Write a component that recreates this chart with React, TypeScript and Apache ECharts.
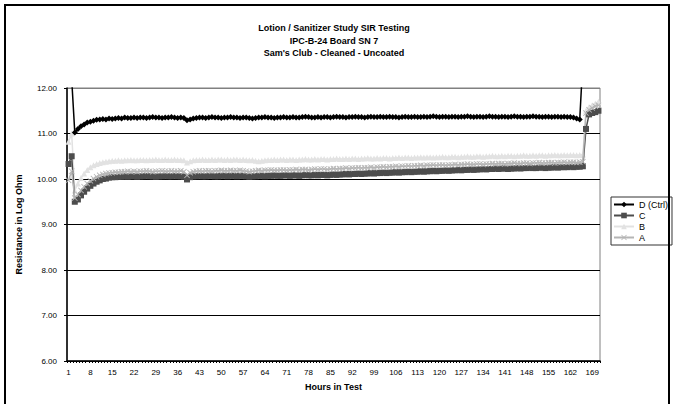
import React, { useEffect, useRef } from "react";
import * as echarts from "echarts";

const hours = Array.from({ length: 171 }, (_, i) => String(i + 1));

const titleLines = [
  "Lotion / Sanitizer Study SIR Testing",
  "IPC-B-24 Board SN 7",
  "Sam's Club - Cleaned - Uncoated",
];
const yTicks = [6, 7, 8, 9, 10, 11, 12];
const seriesNames = ["D (Ctrl)", "C", "B", "A"];

const seriesD = [
  16.0, 12.2, 11.02, 11.1, 11.16, 11.2, 11.24, 11.26, 11.28, 11.3,
  11.31, 11.32, 11.31, 11.33, 11.32, 11.33, 11.34, 11.33, 11.35, 11.34,
  11.34, 11.35, 11.34, 11.35, 11.35, 11.34, 11.35, 11.36, 11.35, 11.35,
  11.34, 11.35, 11.35, 11.36, 11.35, 11.34, 11.35, 11.34, 11.29, 11.31,
  11.33, 11.34, 11.35, 11.35, 11.34, 11.35, 11.36, 11.35, 11.35, 11.34,
  11.35, 11.35, 11.36, 11.35, 11.35, 11.34, 11.35, 11.35, 11.34, 11.33,
  11.34, 11.35, 11.35, 11.36, 11.35, 11.35, 11.34, 11.35, 11.35, 11.36,
  11.35, 11.35, 11.36, 11.35, 11.35, 11.36, 11.37, 11.36, 11.35, 11.35,
  11.36, 11.35, 11.36, 11.36, 11.35, 11.36, 11.37, 11.36, 11.36, 11.35,
  11.36, 11.36, 11.37, 11.36, 11.36, 11.35, 11.36, 11.37, 11.36, 11.36,
  11.37, 11.36, 11.36, 11.37, 11.36, 11.36, 11.35, 11.36, 11.37, 11.36,
  11.36, 11.37, 11.36, 11.36, 11.37, 11.36, 11.37, 11.38, 11.37, 11.36,
  11.37, 11.37, 11.36, 11.37, 11.37, 11.36, 11.37, 11.37, 11.38, 11.37,
  11.36, 11.37, 11.37, 11.36, 11.37, 11.38, 11.37, 11.37, 11.36, 11.37,
  11.37, 11.36, 11.37, 11.38, 11.37, 11.37, 11.36, 11.37, 11.37, 11.38,
  11.37, 11.37, 11.36, 11.37, 11.37, 11.36, 11.37, 11.37, 11.36, 11.37,
  11.36, 11.36, 11.35, 11.33, 11.31, 12.6, 14.5, 14.8, 15.0, 15.0, 15.0,
];

const seriesC = [
  10.33, 10.5, 9.5, 9.55, 9.64, 9.72, 9.79, 9.85, 9.9, 9.94,
  9.97, 10.0, 10.01, 10.03, 10.04, 10.04, 10.05, 10.05, 10.06, 10.05,
  10.06, 10.06, 10.05, 10.06, 10.06, 10.07, 10.06, 10.06, 10.05, 10.06,
  10.06, 10.07, 10.06, 10.06, 10.07, 10.06, 10.06, 10.05, 9.99, 10.04,
  10.06, 10.06, 10.07, 10.06, 10.06, 10.07, 10.07, 10.06, 10.06, 10.07,
  10.07, 10.06, 10.07, 10.07, 10.06, 10.07, 10.07, 10.06, 10.05, 10.06,
  10.06, 10.07, 10.07, 10.06, 10.07, 10.07, 10.08, 10.07, 10.07, 10.08,
  10.08, 10.07, 10.08, 10.08, 10.07, 10.08, 10.09, 10.08, 10.08, 10.09,
  10.08, 10.09, 10.09, 10.08, 10.09, 10.1, 10.09, 10.1, 10.1, 10.11,
  10.1, 10.11, 10.11, 10.12, 10.11, 10.12, 10.12, 10.13, 10.12, 10.13,
  10.13, 10.14, 10.13, 10.14, 10.14, 10.15, 10.14, 10.15, 10.15, 10.16,
  10.15, 10.16, 10.16, 10.17, 10.16, 10.17, 10.17, 10.18, 10.17, 10.18,
  10.18, 10.19, 10.18, 10.19, 10.19, 10.2, 10.19, 10.2, 10.2, 10.21,
  10.2, 10.21, 10.21, 10.22, 10.21, 10.22, 10.22, 10.23, 10.22, 10.23,
  10.23, 10.22, 10.23, 10.23, 10.24, 10.23, 10.24, 10.24, 10.25, 10.24,
  10.24, 10.25, 10.25, 10.24, 10.25, 10.25, 10.26, 10.25, 10.26, 10.26,
  10.26, 10.27, 10.26, 10.27, 10.27, 10.28, 11.1, 11.42, 11.45, 11.47, 11.5,
];

const seriesB = [
  10.82, 11.0, 9.75, 9.9, 10.02, 10.12, 10.2, 10.26, 10.3, 10.33,
  10.35, 10.37, 10.38, 10.39, 10.4, 10.4, 10.41, 10.4, 10.41, 10.41,
  10.42, 10.41, 10.41, 10.42, 10.42, 10.41, 10.42, 10.42, 10.43, 10.42,
  10.42, 10.43, 10.42, 10.42, 10.43, 10.42, 10.42, 10.41, 10.36, 10.39,
  10.41, 10.42, 10.42, 10.43, 10.42, 10.42, 10.43, 10.42, 10.43, 10.43,
  10.42, 10.43, 10.42, 10.43, 10.43, 10.42, 10.43, 10.42, 10.41, 10.42,
  10.4, 10.39, 10.4, 10.41, 10.42, 10.42, 10.43, 10.42, 10.43, 10.43,
  10.42, 10.43, 10.43, 10.42, 10.43, 10.43, 10.44, 10.43, 10.43, 10.44,
  10.43, 10.44, 10.44, 10.43, 10.44, 10.44, 10.45, 10.44, 10.44, 10.45,
  10.44, 10.45, 10.45, 10.44, 10.45, 10.45, 10.46, 10.45, 10.45, 10.46,
  10.45, 10.46, 10.46, 10.45, 10.46, 10.46, 10.47, 10.46, 10.47, 10.47,
  10.46, 10.47, 10.47, 10.48, 10.47, 10.48, 10.48, 10.47, 10.48, 10.48,
  10.49, 10.48, 10.48, 10.49, 10.49, 10.48, 10.49, 10.49, 10.5, 10.49,
  10.49, 10.5, 10.5, 10.49, 10.5, 10.5, 10.51, 10.5, 10.5, 10.51,
  10.5, 10.51, 10.51, 10.5, 10.51, 10.51, 10.52, 10.51, 10.51, 10.52,
  10.51, 10.52, 10.52, 10.51, 10.52, 10.52, 10.53, 10.52, 10.52, 10.53,
  10.52, 10.53, 10.53, 10.52, 10.53, 10.54, 11.5, 11.58, 11.62, 11.66, 11.7,
];

const seriesA = [
  9.97, 10.17, 9.58, 9.66, 9.75, 9.83, 9.9, 9.96, 10.01, 10.05,
  10.08, 10.1, 10.12, 10.13, 10.14, 10.15, 10.15, 10.16, 10.16, 10.17,
  10.16, 10.17, 10.16, 10.17, 10.17, 10.18, 10.17, 10.16, 10.17, 10.17,
  10.18, 10.17, 10.17, 10.18, 10.17, 10.17, 10.18, 10.16, 10.08, 10.14,
  10.16, 10.17, 10.18, 10.17, 10.18, 10.18, 10.17, 10.18, 10.18, 10.19,
  10.18, 10.18, 10.19, 10.18, 10.18, 10.19, 10.18, 10.17, 10.16, 10.17,
  10.18, 10.19, 10.18, 10.19, 10.19, 10.2, 10.19, 10.19, 10.2, 10.2,
  10.19, 10.2, 10.2, 10.21, 10.2, 10.21, 10.21, 10.2, 10.21, 10.22,
  10.21, 10.22, 10.22, 10.21, 10.22, 10.23, 10.22, 10.23, 10.23, 10.24,
  10.23, 10.24, 10.24, 10.25, 10.24, 10.25, 10.25, 10.26, 10.25, 10.26,
  10.26, 10.27, 10.26, 10.27, 10.27, 10.28, 10.27, 10.28, 10.28, 10.29,
  10.28, 10.29, 10.29, 10.3, 10.29, 10.3, 10.3, 10.31, 10.3, 10.31,
  10.31, 10.3, 10.31, 10.31, 10.32, 10.31, 10.32, 10.32, 10.33, 10.32,
  10.32, 10.33, 10.33, 10.32, 10.33, 10.33, 10.34, 10.33, 10.34, 10.34,
  10.33, 10.34, 10.34, 10.35, 10.34, 10.34, 10.35, 10.35, 10.34, 10.35,
  10.35, 10.36, 10.35, 10.35, 10.36, 10.36, 10.35, 10.36, 10.36, 10.37,
  10.36, 10.37, 10.37, 10.36, 10.37, 10.38, 11.45, 11.52, 11.56, 11.6, 11.62,
];

const FONT = "'Liberation Sans', Arial, Helvetica, sans-serif";
const X_MARK = "path://M0,1L1,0L5,4L9,0L10,1L6,5L10,9L9,10L5,6L1,10L0,9L4,5Z";

export default function App() {
  const ref = useRef<HTMLDivElement>(null);

  useEffect(() => {
    if (!ref.current) return;
    const chart = echarts.init(ref.current, null, { renderer: "svg" });

    const lineSeries = (
      name: string,
      data: number[],
      color: string,
      symbol: string,
      symbolSize: number,
      z: number
    ) => ({
      name,
      type: "line",
      data,
      symbol,
      symbolSize,
      showAllSymbol: true,
      clip: true,
      z,
      itemStyle: { color, borderColor: color, borderWidth: 0 },
      lineStyle: { color, width: 1.5 },
      emphasis: { disabled: true },
    });

    chart.setOption({
      animation: false,
      backgroundColor: "#ffffff",
      textStyle: { fontFamily: FONT },
      graphic: [
        {
          type: "rect",
          shape: { x: 5, y: 5, width: 664, height: 420 },
          style: { fill: "none", stroke: "#000", lineWidth: 2 },
          silent: true,
          z: 100,
        },
        ...titleLines.map((t, i) => ({
          type: "text",
          x: 334,
          y: 28 + i * 12.5,
          style: {
            text: t,
            fontFamily: FONT,
            fontSize: 9,
            fontWeight: "bold",
            fill: "#000",
            textAlign: "center",
            textVerticalAlign: "middle",
          },
        })),
      ],
      grid: {
        left: 67,
        right: 73,
        top: 88,
        bottom: 43,
        show: true,
        borderColor: "#808080",
        borderWidth: 1,
        backgroundColor: "#fff",
      },
      legend: {
        orient: "vertical",
        left: 611,
        top: 197,
        itemWidth: 20,
        itemHeight: 7,
        itemGap: 2,
        padding: [3, 4, 3, 2],
        borderColor: "#333",
        borderWidth: 1,
        backgroundColor: "#fff",
        data: seriesNames,
        textStyle: { fontFamily: FONT, fontSize: 9, color: "#000" },
      },
      xAxis: {
        type: "category",
        data: hours,
        boundaryGap: true,
        axisLine: { show: true, lineStyle: { color: "#000", width: 1.5 } },
        axisTick: { show: true, interval: 0, length: 2, lineStyle: { color: "#000", width: 1 } },
        axisLabel: { interval: 6, fontFamily: FONT, fontSize: 8, color: "#000", margin: 7 },
        splitLine: { show: false },
        name: "Hours in Test",
        nameLocation: "middle",
        nameGap: 21,
        nameTextStyle: { fontFamily: FONT, fontSize: 9, fontWeight: "bold", color: "#000" },
      },
      yAxis: {
        type: "value",
        min: yTicks[0],
        max: yTicks[yTicks.length - 1],
        interval: 1,
        axisLine: { show: true, lineStyle: { color: "#000", width: 1.5 } },
        axisTick: { show: true, length: 3, lineStyle: { color: "#000" } },
        axisLabel: {
          fontFamily: FONT,
          fontSize: 8,
          color: "#000",
          margin: 10,
          formatter: (v: number) => v.toFixed(2),
        },
        splitLine: {
          show: true,
          lineStyle: {
            color: ["#000", "#000", "#000", "#000", "#000", "#000", "#808080"],
            width: 1,
          },
        },
        name: "Resistance in Log Ohm",
        nameLocation: "middle",
        nameGap: 44,
        nameTextStyle: { fontFamily: FONT, fontSize: 9, fontWeight: "bold", color: "#000" },
      },
      series: [
        lineSeries("D (Ctrl)", seriesD, "#000000", "diamond", 6, 5),
        lineSeries("C", seriesC, "#4d4d4d", "rect", 6, 4),
        lineSeries("B", seriesB, "#e2e2e2", "triangle", 6, 3),
        lineSeries("A", seriesA, "#b5b5b5", X_MARK, 6, 4),
      ],
    });

    return () => chart.dispose();
  }, []);

  return (
    <div
      ref={ref}
      style={{ position: "fixed", left: 0, top: 0, width: 673, height: 404 }}
    />
  );
}
